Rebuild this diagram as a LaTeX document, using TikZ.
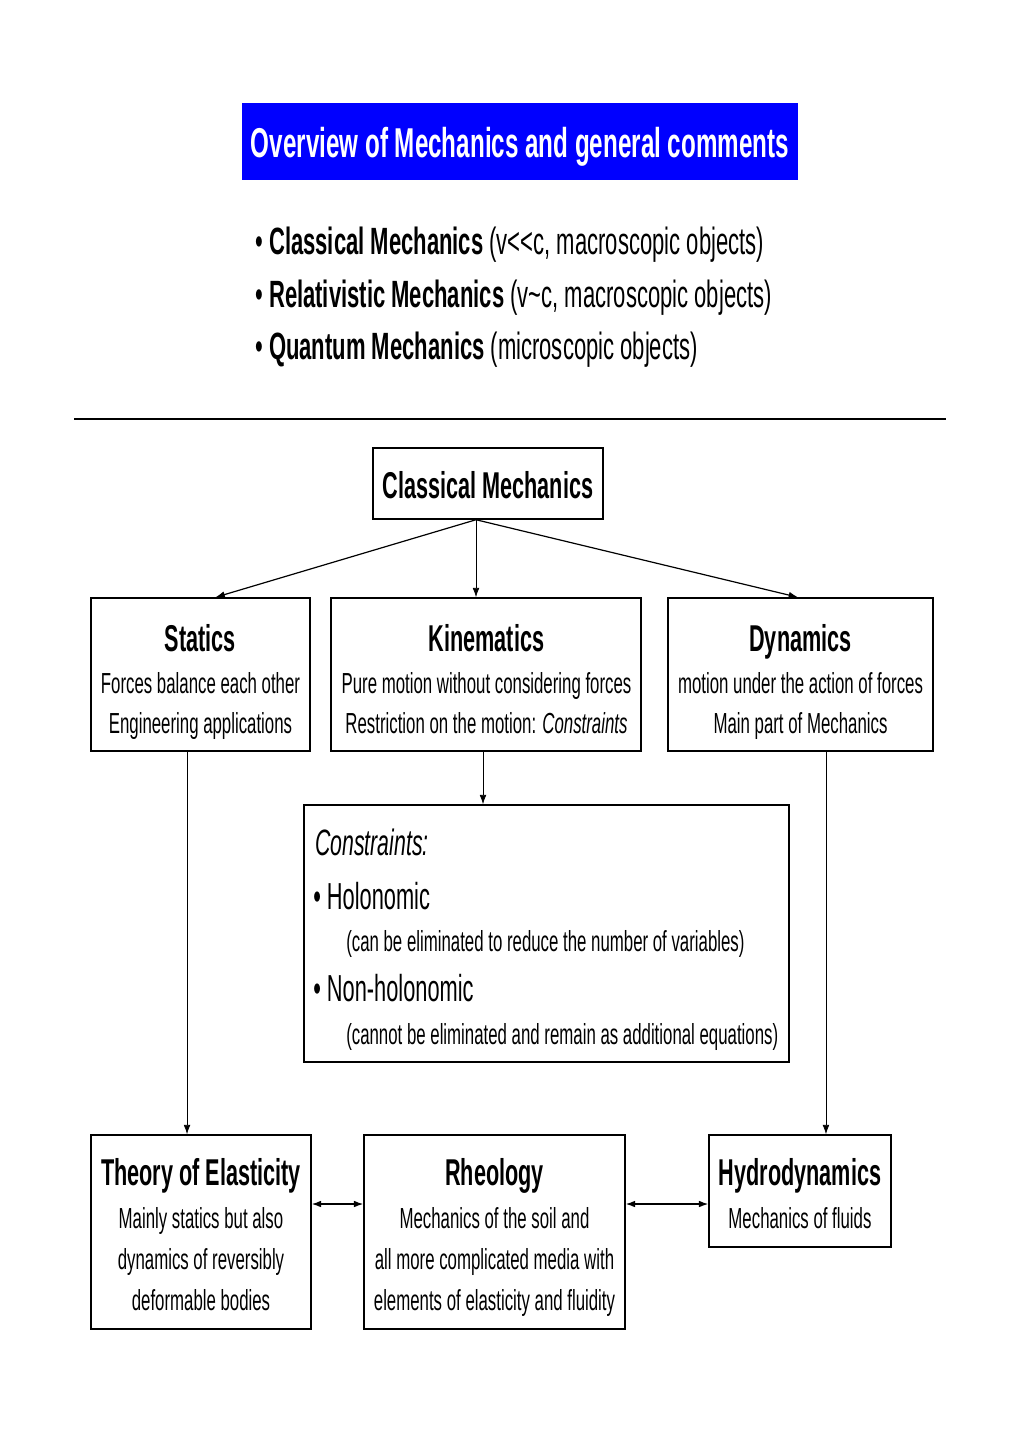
\documentclass[tikz,border=0pt]{standalone}
\usepackage{fontspec}
\setmainfont{Liberation Sans}[FakeStretch=0.58]
\usetikzlibrary{arrows.meta}
\newcommand\fstitle{\fontsize{31.3pt}{36pt}\selectfont}
\newcommand\fsbig{\fontsize{28pt}{33pt}\selectfont}
\newcommand\fsbul{\fontsize{28.5pt}{33pt}\selectfont}
\newcommand\fsbody{\fontsize{21.75pt}{30pt}\selectfont}
\begin{document}
\begin{tikzpicture}[x=0.75pt,y=-0.75pt,
  box/.style={draw, line width=1.1pt, inner sep=0, rectangle},
  txt/.style={inner sep=0, anchor=base},
  txtl/.style={inner sep=0, anchor=base west},
  arr/.style={-{Latex[length=7pt,width=5pt]}, line width=0.9pt},
  darr/.style={{Latex[length=7pt,width=5pt]}-{Latex[length=7pt,width=5pt]}, line width=0.9pt}]
\useasboundingbox (0,0) rectangle (1020,1443);
\fill[white] (0,0) rectangle (1020,1443);

% title
\node[box, draw=blue, fill={rgb,255:red,0;green,0;blue,255}, minimum width=415.5pt, minimum height=56.25pt] (title) at (520,141.5) {};
\node[txt, text=white] (titletext) at (520,157) {\fstitle\bfseries Overview of Mechanics and general comments};

% bullets
\node[txtl] (b1) at (255,254) {\fsbul\textbullet\ \textbf{Classical Mechanics} (v<{}<c, macroscopic objects)};
\node[txtl] (b2) at (255,307) {\fsbul\textbullet\ \textbf{Relativistic Mechanics} (v\textasciitilde c, macroscopic objects)};
\node[txtl] (b3) at (255,359) {\fsbul\textbullet\ \textbf{Quantum Mechanics} (microscopic objects)};

% rule
\draw[line width=1pt] (74,419) -- (946,419);

% boxes
\node[box, minimum width=172.5pt, minimum height=53.25pt] (cm) at (488,483.5) {};
\node[box, minimum width=164.25pt, minimum height=114.75pt] (statics) at (200.5,674.5) {};
\node[box, minimum width=232.5pt, minimum height=114.75pt] (kin) at (486,674.5) {};
\node[box, minimum width=198.75pt, minimum height=114.75pt] (dyn) at (800.5,674.5) {};
\node[box, minimum width=363.75pt, minimum height=192.75pt] (cons) at (546.5,933.5) {};
\node[box, minimum width=165pt, minimum height=145.5pt] (elast) at (201,1232) {};
\node[box, minimum width=195.75pt, minimum height=145.5pt] (rheo) at (494.5,1232) {};
\node[box, minimum width=136.5pt, minimum height=84pt] (hydro) at (800,1191) {};

% texts
\node[txt] (cmt) at (488,498.5) {\fsbig\bfseries Classical Mechanics};

\node[txt] (st1) at (200.5,651) {\fsbig\bfseries Statics};
\node[txt] (st2) at (200.5,693) {\fsbody Forces balance each other};
\node[txt] (st3) at (200.5,733) {\fsbody Engineering applications};

\node[txt] (ki1) at (486.5,651) {\fsbig\bfseries Kinematics};
\node[txt] (ki2) at (486.5,693) {\fsbody Pure motion without considering forces};
\node[txt] (ki3) at (486.5,733) {\fsbody Restriction on the motion: \textit{Constraints}};

\node[txt] (dy1) at (800.5,651) {\fsbig\bfseries Dynamics};
\node[txt] (dy2) at (800.5,693) {\fsbody motion under the action of forces};
\node[txt] (dy3) at (800.5,733) {\fsbody Main part of Mechanics};

\node[txtl] (co1) at (315,855) {\fontsize{27.5pt}{32pt}\selectfont\itshape Constraints:};
\node[txtl] (co2) at (313,909) {\fontsize{28.2pt}{33pt}\selectfont\textbullet\ Holonomic};
\node[txtl] (co3) at (346,951) {\fsbody (can be eliminated to reduce the number of variables)};
\node[txtl] (co4) at (313,1001) {\fontsize{28.2pt}{33pt}\selectfont\textbullet\ Non-holonomic};
\node[txtl] (co5) at (346,1044) {\fsbody (cannot be eliminated and remain as additional equations)};

\node[txt] (el1) at (201,1185) {\fsbig\bfseries Theory of Elasticity};
\node[txt] (el2) at (201,1228) {\fsbody Mainly statics but also};
\node[txt] (el3) at (201,1269) {\fsbody dynamics of reversibly};
\node[txt] (el4) at (201,1310) {\fsbody deformable bodies};

\node[txt] (rh1) at (494.5,1185) {\fsbig\bfseries Rheology};
\node[txt] (rh2) at (494.5,1228) {\fsbody Mechanics of the soil and};
\node[txt] (rh3) at (494.5,1269) {\fsbody all more complicated media with};
\node[txt] (rh4) at (494.5,1310) {\fsbody elements of elasticity and fluidity};

\node[txt] (hy1) at (800,1185) {\fsbig\bfseries Hydrodynamics};
\node[txt] (hy2) at (800,1228) {\fsbody Mechanics of fluids};

% connectors
\coordinate (apex) at ([xshift=-9pt]cm.south);
\draw[arr] (apex) -- ([xshift=11.25pt]statics.north);
\draw[arr, line width=0.6pt] (apex) -- ([xshift=-7.5pt]kin.north);
\draw[arr] (apex) -- ([xshift=-1.9pt]dyn.north);
\draw[arr, line width=0.6pt] ([xshift=-2.25pt]kin.south) -- ([xshift=-2.25pt]kin.south |- cons.north);
\draw[arr, line width=0.6pt] ([xshift=-10.1pt]statics.south) -- ([xshift=-10.1pt]statics.south |- elast.north);
\draw[arr, line width=0.6pt] ([xshift=19.1pt]dyn.south) -- ([xshift=19.1pt]dyn.south |- hydro.north);
\draw[darr] ([yshift=21pt]elast.east) -- ([yshift=21pt]elast.east -| rheo.west);
\draw[darr] ([yshift=21pt]rheo.east) -- ([yshift=21pt]rheo.east -| hydro.west);
\end{tikzpicture}
\end{document}
